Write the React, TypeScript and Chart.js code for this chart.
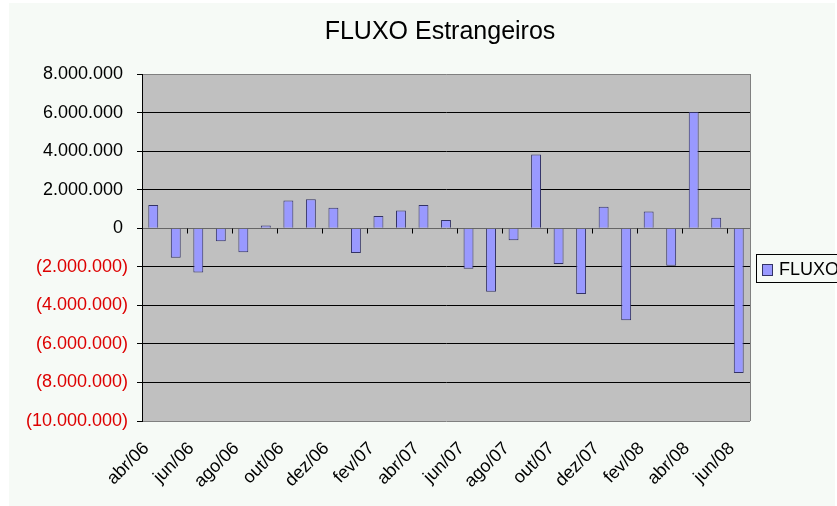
import React, { useEffect, useRef } from "react";
import { Chart, registerables } from "chart.js";

Chart.register(...registerables);

const months = [
  "abr/06", "mai/06", "jun/06", "jul/06", "ago/06", "set/06", "out/06", "nov/06", "dez/06",
  "jan/07", "fev/07", "mar/07", "abr/07", "mai/07", "jun/07", "jul/07", "ago/07", "set/07",
  "out/07", "nov/07", "dez/07", "jan/08", "fev/08", "mar/08", "abr/08", "mai/08", "jun/08",
];

const fluxo = [
  1200000, -1530000, -2300000, -680000, -1250000, 140000, 1440000, 1500000, 1060000,
  -1290000, 630000, 920000, 1200000, 430000, -2100000, -3290000, -630000, 3830000,
  -1860000, -3410000, 1110000, -4780000, 870000, -1950000, 6030000, 540000, -7510000,
];

const seriesName = "FLUXO";
const chartTitle = "FLUXO Estrangeiros";
const yMin = -10000000;
const yMax = 8000000;
const yStep = 2000000;

const FONT = "'Liberation Sans', Arial, sans-serif";
const BAR_FILL = "#9999FF";
const BAR_EDGE = "#333366";

function fmt(v: number): string {
  const s = Math.abs(v).toString().replace(/\B(?=(\d{3})+(?!\d))/g, ".");
  return v < 0 ? `(${s})` : s + " ";
}

const decorPlugin = {
  id: "decor",
  beforeDraw(chart: any) {
    const { ctx, chartArea } = chart;
    ctx.save();
    ctx.fillStyle = "#ffffff";
    ctx.fillRect(0, 0, chart.width, chart.height);
    ctx.fillStyle = "#F6FAF6";
    ctx.fillRect(9, 3, 826, 503);
    ctx.fillStyle = "#C0C0C0";
    ctx.fillRect(chartArea.left, chartArea.top, chartArea.right - chartArea.left, chartArea.bottom - chartArea.top);
    ctx.restore();
  },
  afterDraw(chart: any) {
    const { ctx, chartArea } = chart;
    const xs = chart.scales.x;
    const ys = chart.scales.y;
    ctx.save();
    // title
    ctx.fillStyle = "#000";
    ctx.font = `25px ${FONT}`;
    ctx.textAlign = "center";
    ctx.textBaseline = "alphabetic";
    ctx.fillText(chartTitle, 440, 39);
    // right plot border
    ctx.strokeStyle = "#808080";
    ctx.lineWidth = 1;
    ctx.beginPath();
    ctx.moveTo(Math.round(chartArea.right) + 0.5, chartArea.top);
    ctx.lineTo(Math.round(chartArea.right) + 0.5, chartArea.bottom);
    ctx.stroke();
    // category tick marks on the zero line
    const y0 = Math.round(ys.getPixelForValue(0)) + 0.5;
    ctx.strokeStyle = "#000";
    ctx.beginPath();
    for (let i = 2; i < months.length; i += 2) {
      const bx = Math.round((xs.getPixelForValue(i - 1) + xs.getPixelForValue(i)) / 2) + 0.5;
      ctx.moveTo(bx, y0);
      ctx.lineTo(bx, y0 + 5);
    }
    ctx.stroke();
    // legend
    const ds = chart.data.datasets[0];
    ctx.strokeStyle = "#000";
    ctx.fillStyle = "#F6FAF6";
    ctx.fillRect(756.5, 254.5, 90, 28);
    ctx.strokeRect(756.5, 254.5, 90, 28);
    ctx.fillStyle = BAR_FILL;
    ctx.fillRect(762.5, 264.5, 10, 11);
    ctx.strokeStyle = BAR_EDGE;
    ctx.strokeRect(762.5, 264.5, 10, 11);
    ctx.fillStyle = "#000";
    ctx.font = `18px ${FONT}`;
    ctx.textBaseline = "middle";
    ctx.textAlign = "left";
    ctx.fillText(ds.label, 779, 270);
    ctx.restore();
  },
};

export default function App() {
  const ref = useRef<HTMLCanvasElement | null>(null);

  useEffect(() => {
    if (!ref.current) return;
    const chart = new Chart(ref.current, {
      type: "bar",
      data: {
        labels: months,
        datasets: [
          {
            label: seriesName,
            data: fluxo,
            backgroundColor: BAR_FILL,
            borderColor: BAR_EDGE,
            borderWidth: 1,
            barPercentage: 0.44,
            categoryPercentage: 1,
          },
        ],
      },
      options: {
        animation: false,
        responsive: true,
        maintainAspectRatio: false,
        layout: { padding: { left: 0, right: 0, top: 74, bottom: 0 } },
        plugins: {
          legend: { display: false },
          tooltip: { enabled: false },
          title: { display: false },
        },
        scales: {
          x: {
            grid: { display: false, drawTicks: false },
            border: { display: false },
            ticks: {
              autoSkip: false,
              minRotation: 45,
              maxRotation: 45,
              padding: 17,
              labelOffset: -7,
              color: "#000",
              font: { family: FONT, size: 18 },
              callback: (_v: any, i: number) => (i % 2 === 0 ? months[i] : ""),
            },
            afterFit: (s: any) => {
              s.height = 85;
            },
          },
          y: {
            min: yMin,
            max: yMax,
            grid: {
              color: (c: any) => {
                const v = c.tick ? c.tick.value : 0;
                if (v === yMax || v === yMin) return "#808080";
                if (v === 0) return "#666666";
                return "#000000";
              },
              tickColor: "#000000",
              tickLength: 5,
              lineWidth: 1,
            },
            border: { display: true, color: "#000", width: 1 },
            ticks: {
              stepSize: yStep,
              padding: 9,
              color: (c: any) => (c.tick && c.tick.value < 0 ? "#DD0000" : "#000000"),
              font: { family: FONT, size: 18 },
              callback: (v: any) => fmt(Number(v)),
            },
            afterFit: (s: any) => {
              s.width = 142;
            },
          },
          yRight: {
            position: "right",
            min: yMin,
            max: yMax,
            grid: { display: false, drawTicks: false },
            border: { display: false },
            ticks: { display: false },
            afterFit: (s: any) => {
              s.width = 87;
            },
          },
        },
      },
      plugins: [decorPlugin],
    });
    return () => chart.destroy();
  }, []);

  return (
    <div style={{ position: "absolute", left: 0, top: 0, width: 837, height: 506 }}>
      <canvas ref={ref} />
    </div>
  );
}
